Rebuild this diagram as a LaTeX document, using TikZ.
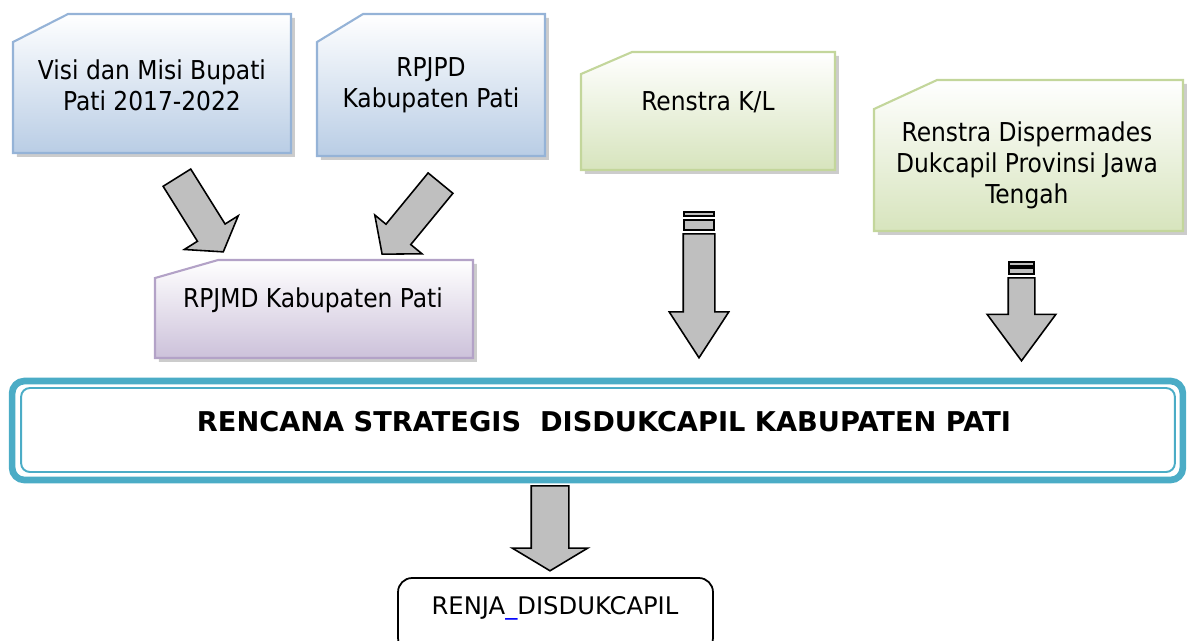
\documentclass[tikz,border=0pt]{standalone}
\usepackage{fontspec}
\setmainfont{DejaVu Sans Condensed}
\newfontfamily\widefont{DejaVu Sans}
\usetikzlibrary{shapes.arrows, shadows, calc}

\definecolor{blueline}{HTML}{95B3D7}
\definecolor{bluefill}{HTML}{B9CDE5}
\definecolor{greenline}{HTML}{C3D69B}
\definecolor{greenfill}{HTML}{D7E4BD}
\definecolor{purpleline}{HTML}{B3A2C7}
\definecolor{purplefill}{HTML}{CCC1DA}
\definecolor{tealline}{HTML}{4BACC6}
\definecolor{arrowgray}{HTML}{BFBFBF}
\definecolor{linkblue}{HTML}{0000FF}

\tikzset{
  boxarea/.style={rectangle, inner sep=0pt, outer sep=0pt},
  snipframe/.style={draw=#1line, line width=1.2pt, top color=white, bottom color=#1fill,
    drop shadow={shadow xshift=2.2pt, shadow yshift=-2.2pt, opacity=0.4}},
  boxtext/.style={align=center, font=\fontsize{14.8}{17.5}\selectfont},
  blockarrow/.style={single arrow, draw=black, line width=0.9pt, fill=arrowgray,
    inner xsep=0pt, anchor=tail},
  stripe/.style={draw=black, line width=0.9pt, fill=arrowgray}
}

\begin{document}
\begin{tikzpicture}[x=0.02cm, y=-0.02cm]
\useasboundingbox (0,0) rectangle (1187,640);

% source documents
\node[boxarea, minimum width=5.56cm, minimum height=2.78cm] (visi) at (152,83.5) {};
\draw[snipframe=blue] (visi.south west) -- ($(visi.north west)+(0,28)$) -- ($(visi.north west)+(55,0)$)
  -- (visi.north east) -- (visi.south east) -- cycle;
\node[boxtext] (visi-txt) at (152,85) {Visi dan Misi Bupati\\Pati 2017-2022};

\node[boxarea, minimum width=4.56cm, minimum height=2.84cm] (rpjpd) at (431,85) {};
\draw[snipframe=blue] (rpjpd.south west) -- ($(rpjpd.north west)+(0,28)$) -- ($(rpjpd.north west)+(46,0)$)
  -- (rpjpd.north east) -- (rpjpd.south east) -- cycle;
\node[boxtext] (rpjpd-txt) at (431,85) {RPJPD\\Kabupaten Pati};

\node[boxarea, minimum width=5.08cm, minimum height=2.36cm] (kl) at (708,111) {};
\draw[snipframe=green] (kl.south west) -- ($(kl.north west)+(0,22)$) -- ($(kl.north west)+(51,0)$)
  -- (kl.north east) -- (kl.south east) -- cycle;
\node[boxtext] (kl-txt) at (708,102) {Renstra K/L};

\node[boxarea, minimum width=6.18cm, minimum height=3.02cm] (prov) at (1028.5,155.5) {};
\draw[snipframe=green] (prov.south west) -- ($(prov.north west)+(0,29)$) -- ($(prov.north west)+(63,0)$)
  -- (prov.north east) -- (prov.south east) -- cycle;
\node[boxtext] (prov-txt) at (1027,165.5) {Renstra Dispermades\\Dukcapil Provinsi Jawa\\Tengah};

\node[boxarea, minimum width=6.36cm, minimum height=1.96cm] (rpjmd) at (314,309) {};
\draw[snipframe=purple] (rpjmd.south west) -- ($(rpjmd.north west)+(0,18)$) -- ($(rpjmd.north west)+(63,0)$)
  -- (rpjmd.north east) -- (rpjmd.south east) -- cycle;
\node[boxtext] (rpjmd-txt) at (313,300) {RPJMD Kabupaten Pati};

% arrows into the plan
\node[blockarrow, rotate=-58, minimum height=1.75cm, minimum width=1.24cm, inner ysep=0.31cm,
  single arrow head extend=0.31cm, single arrow tip angle=109] (visi-arrow) at (176.5,177) {};
\node[blockarrow, rotate=-129.4, minimum height=1.84cm, minimum width=1.19cm, inner ysep=0.305cm,
  single arrow head extend=0.29cm, single arrow tip angle=100] (rpjpd-arrow) at (441,182.5) {};
\node[blockarrow, rotate=-90, minimum height=2.48cm, minimum width=1.16cm, inner ysep=0.3cm,
  single arrow head extend=0.28cm, single arrow tip angle=66] (kl-arrow) at (699,233) {};
\draw[stripe] (684,212) rectangle (714,216);
\draw[stripe] (684,220) rectangle (714,230);
\node[blockarrow, rotate=-90, minimum height=1.66cm, minimum width=1.34cm, inner ysep=0.25cm,
  single arrow head extend=0.42cm, single arrow tip angle=73] (prov-arrow) at (1021.5,277) {};
\draw[stripe] (1009,262) rectangle (1034,266);
\draw[stripe] (1009,268) rectangle (1034,274);

% main plan
\node[draw=tealline, line width=3.8pt, rounded corners=7pt, minimum width=23.42cm,
  minimum height=1.98cm, inner sep=0pt, outer sep=0pt] (renstra) at (597.5,430.5) {};
\draw[tealline, line width=1.1pt, rounded corners=5pt]
  ($(renstra.north west)+(9,7)$) rectangle ($(renstra.south east)+(-8,-8)$);
\node[font=\widefont\bfseries\fontsize{15.5}{18}\selectfont] (renstra-txt) at (604,421.5)
  {RENCANA STRATEGIS\ \ DISDUKCAPIL KABUPATEN PATI};

% work plan
\node[blockarrow, rotate=-90, minimum height=1.7cm, minimum width=1.48cm, inner ysep=0.36cm,
  single arrow head extend=0.38cm, single arrow tip angle=118] (renja-arrow) at (550,485) {};
\node[draw, line width=1pt, rounded corners=8pt, minimum width=6.3cm, minimum height=1.48cm] (renja) at (555.5,615) {};
\node[font=\widefont\fontsize{13.8}{17}\selectfont] (renja-txt) at (555,608) {RENJA\textcolor{linkblue}{\_}DISDUKCAPIL};
\end{tikzpicture}
\end{document}
